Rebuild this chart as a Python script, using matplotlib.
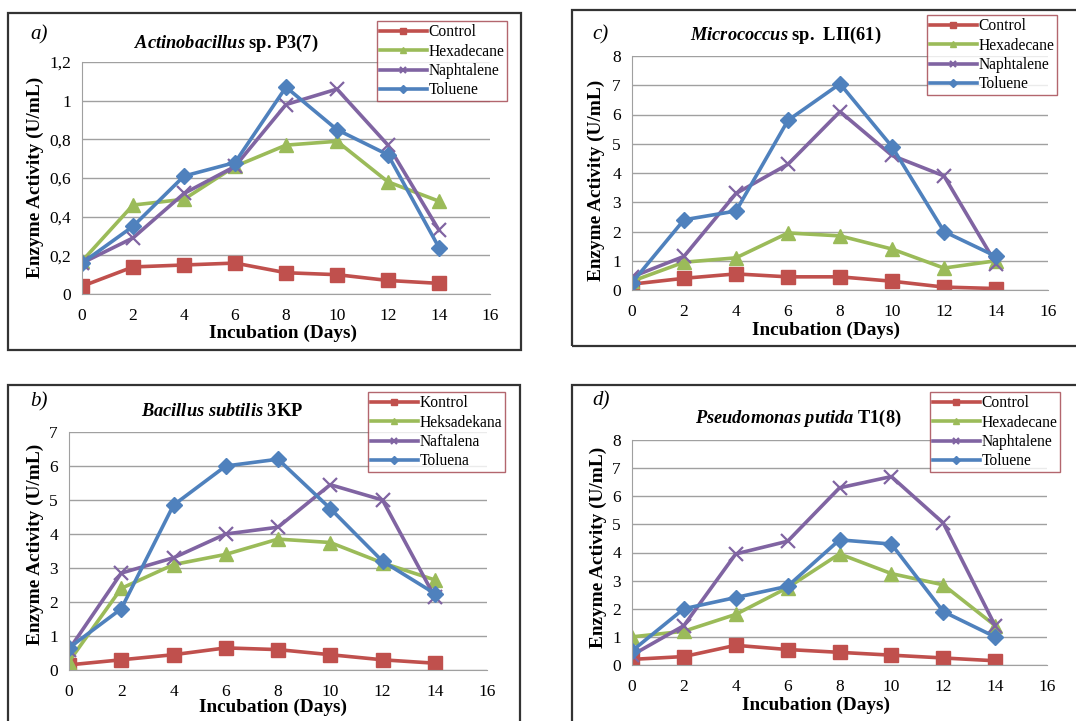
import matplotlib
matplotlib.use("Agg")
import matplotlib.pyplot as plt
from matplotlib.patches import Rectangle

plt.rcParams['font.family'] = ['Liberation Serif', 'DejaVu Serif']
plt.rcParams['mathtext.fontset'] = 'custom'
plt.rcParams['mathtext.it'] = 'Liberation Serif:italic:bold'
plt.rcParams['mathtext.rm'] = 'Liberation Serif:bold'

days = [0, 2, 4, 6, 8, 10, 12, 14]

# a) Actinobacillus sp. P3(7)
a_control = [0.04, 0.14, 0.15, 0.16, 0.11, 0.10, 0.07, 0.055]
a_hexa = [0.17, 0.46, 0.49, 0.66, 0.77, 0.79, 0.58, 0.48]
a_naph = [0.16, 0.29, 0.52, 0.66, 0.98, 1.06, 0.77, 0.33]
a_tol = [0.16, 0.35, 0.61, 0.68, 1.07, 0.85, 0.72, 0.24]

# c) Micrococcus sp. LII(61)
c_control = [0.2, 0.4, 0.55, 0.45, 0.45, 0.3, 0.1, 0.05]
c_hexa = [0.3, 0.95, 1.1, 1.95, 1.85, 1.4, 0.75, 1.0]
c_naph = [0.45, 1.15, 3.3, 4.3, 6.1, 4.6, 3.9, 0.9]
c_tol = [0.25, 2.4, 2.7, 5.8, 7.05, 4.9, 2.0, 1.15]

# b) Bacillus subtilis 3KP
b_control = [0.15, 0.3, 0.45, 0.65, 0.6, 0.45, 0.3, 0.2]
b_hexa = [0.25, 2.4, 3.1, 3.4, 3.85, 3.75, 3.15, 2.65]
b_naph = [0.6, 2.85, 3.3, 4.0, 4.2, 5.45, 5.0, 2.15]
b_tol = [0.65, 1.8, 4.85, 6.0, 6.2, 4.75, 3.2, 2.25]

# d) Pseudomonas putida T1(8)
d_control = [0.2, 0.3, 0.7, 0.55, 0.45, 0.35, 0.25, 0.15]
d_hexa = [1.0, 1.2, 1.8, 2.75, 3.95, 3.25, 2.85, 1.4]
d_naph = [0.35, 1.4, 3.95, 4.4, 6.3, 6.7, 5.05, 1.4]
d_tol = [0.5, 2.0, 2.4, 2.8, 4.45, 4.3, 1.9, 1.0]

labels_en = ['Control', 'Hexadecane', 'Naphtalene', 'Toluene']
labels_id = ['Kontrol', 'Heksadekana', 'Naftalena', 'Toluena']

yticks_a = [0, 0.2, 0.4, 0.6, 0.8, 1.0, 1.2]
yticklabels_a = ['0', '0,2', '0,4', '0,6', '0,8', '1', '1,2']

colors = ['#C0504D', '#9BBB59', '#8064A2', '#4F81BD']
markers = ['s', '^', 'x', 'D']
msizes = [9.5, 10, 10, 8.5]

W, H = 1076, 721
fig = plt.figure(figsize=(W / 100, H / 100), dpi=100)


def fx(px):
    return px / W


def fy(py):
    return 1 - py / H


def panel(box, axbox, series, names, yticks, yticklabels, title, tag,
          tagpos, titlepos, ylabpos, xlabpos, legpos):
    x0, y0, x1, y1 = box
    fig.add_artist(Rectangle((fx(x0), fy(y1)), fx(x1 - x0), (y1 - y0) / H,
                             transform=fig.transFigure, fill=False,
                             edgecolor='#333333', lw=1.6))
    l, r, b, t = axbox
    ax = fig.add_axes([fx(l), fy(b), fx(r - l), (b - t) / H])
    lines = []
    for vals, c, m, ms in zip(series, colors, markers, msizes):
        ln, = ax.plot(days, vals, color=c, marker=m, markersize=ms, lw=2.6,
                      markeredgewidth=1.6 if m == 'x' else 1.0,
                      markeredgecolor=c)
        lines.append(ln)
    ax.set_xlim(0, 16)
    ax.set_ylim(yticks[0], yticks[-1])
    ax.set_xticks(range(0, 17, 2))
    ax.set_yticks(yticks)
    ax.set_yticklabels(yticklabels)
    ax.tick_params(labelsize=12.5, length=0)
    ax.tick_params(axis='x', pad=10)
    ax.tick_params(axis='y', pad=8)
    ax.grid(axis='y', color='#A0A0A0', lw=1)
    ax.set_axisbelow(True)
    for s in ['top', 'right']:
        ax.spines[s].set_visible(False)
    for s in ['left', 'bottom']:
        ax.spines[s].set_color('#A0A0A0')
    fig.text(fx(tagpos[0]), fy(tagpos[1]), tag, fontsize=15, style='italic',
             ha='left', va='center')
    fig.text(fx(titlepos[0]), fy(titlepos[1]), title, fontsize=13.2,
             fontweight='bold', ha='center', va='center')
    fig.text(fx(ylabpos[0]), fy(ylabpos[1]), 'Enzyme Activity (U/mL)',
             fontsize=13.9, fontweight='bold', rotation=90,
             ha='center', va='center')
    fig.text(fx(xlabpos[0]), fy(xlabpos[1]), 'Incubation (Days)',
             fontsize=13.9, fontweight='bold', ha='center', va='center')
    leg = fig.legend(lines, names, loc='upper left',
                     bbox_to_anchor=(fx(legpos[0]), fy(legpos[1])),
                     fontsize=11.2, frameon=True, fancybox=False,
                     handlelength=3.0, handletextpad=0.1, labelspacing=0.22,
                     borderpad=0.2, borderaxespad=0, markerscale=0.5)
    leg.get_frame().set_edgecolor('#A0404A')
    leg.get_frame().set_linewidth(1.0)
    return ax


panel((8, 13, 521, 350), (82, 490, 294, 62),
      [a_control, a_hexa, a_naph, a_tol], labels_en, yticks_a, yticklabels_a,
      r'$\mathit{Actinobacillus}$ sp. P3(7)', 'a)',
      (30, 35), (226, 43), (35, 177), (283, 333), (377, 21))

panel((572, 10, 1082, 346), (632, 1048, 290, 56),
      [c_control, c_hexa, c_naph, c_tol], labels_en, list(range(0, 9)),
      [str(v) for v in range(0, 9)],
      r'$\mathit{Micrococcus}$ sp.  LII(61)', 'c)',
      (592, 35), (786, 35), (596, 180), (826, 330), (927, 15))

panel((8, 385, 520, 725), (69, 487, 670, 432),
      [b_control, b_hexa, b_naph, b_tol], labels_id, list(range(0, 8)),
      [str(v) for v in range(0, 8)],
      r'$\mathit{Bacillus\ subtilis}$ 3KP', 'b)',
      (30, 402), (222, 412), (35, 544), (273, 707), (368, 392))

panel((572, 385, 1082, 725), (632, 1047, 665, 440),
      [d_control, d_hexa, d_naph, d_tol], labels_en, list(range(0, 9)),
      [str(v) for v in range(0, 9)],
      r'$\mathit{Pseudomonas\ putida}$ T1(8)', 'd)',
      (592, 401), (798, 418), (598, 547), (816, 705), (930, 392))

fig.savefig('out.png', dpi=100)
